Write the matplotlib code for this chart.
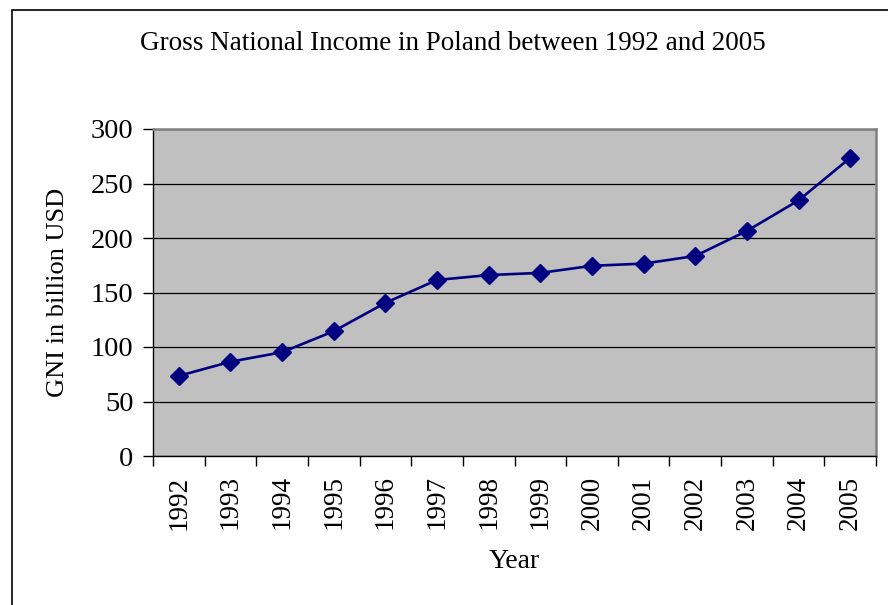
import matplotlib.pyplot as plt
from matplotlib.patches import Rectangle

anos = ["1992", "1993", "1994", "1995", "1996", "1997", "1998",
        "1999", "2000", "2001", "2002", "2003", "2004", "2005"]
gni = [73.5, 86.5, 95.2, 114.5, 140.5, 161.5, 166.0,
       168.0, 174.5, 176.5, 183.5, 206.5, 234.5, 273.5]

plt.rcParams['font.family'] = ['Liberation Serif', 'DejaVu Serif']

fig = plt.figure(figsize=(8.88, 6.05), dpi=100)
ax = fig.add_axes([153 / 888, 1 - 456 / 605, (876 - 153) / 888, (456 - 129) / 605])
ax.set_facecolor("#c0c0c0")

# marco exterior del grafico (cortado a la derecha y abajo)
marco = Rectangle((11.5 / 888, -0.1), 1.2, 1.1 - 10.5 / 605, transform=fig.transFigure,
                  fill=False, edgecolor="black", linewidth=1.2)
fig.patches.append(marco)

x = list(range(len(anos)))
ax.plot(x, gni, color="#000080", linewidth=1.9, marker="D", markersize=9,
        markerfacecolor="#000080", markeredgecolor="#000080", zorder=3)

ax.set_xlim(-0.5, len(anos) - 0.5)
ax.set_ylim(0, 300)
ax.set_yticks(range(0, 301, 50))
ax.yaxis.grid(True, color="black", linewidth=0.9)
ax.set_axisbelow(True)

# ticks entre categorias, etiquetas en el centro
ax.set_xticks([i - 0.5 for i in range(len(anos) + 1)])
ax.set_xticklabels([])
ax.set_xticks(x, minor=True)
ax.set_xticklabels(anos, minor=True, rotation=90, fontsize=19.5)
ax.tick_params(axis="x", which="major", direction="out", length=7, width=1)
ax.tick_params(axis="x", which="minor", length=0, pad=14)
ax.tick_params(axis="y", direction="out", length=7, width=1, labelsize=20.5, pad=7)

for lado in ["left", "bottom"]:
    ax.spines[lado].set_color("black")
    ax.spines[lado].set_linewidth(1)
for lado in ["top", "right"]:
    ax.spines[lado].set_color("#808080")
    ax.spines[lado].set_linewidth(1.8)

ax.set_xlabel("Year", fontsize=20, labelpad=14)
ax.set_ylabel("GNI in billion USD", fontsize=19, labelpad=16)
fig.text(0.5 * (139 + 767) / 888, 1 - 44 / 605,
         "Gross National Income in Poland between 1992 and 2005",
         ha="center", va="center", fontsize=19.5)

plt.savefig("out.png", dpi=100)
